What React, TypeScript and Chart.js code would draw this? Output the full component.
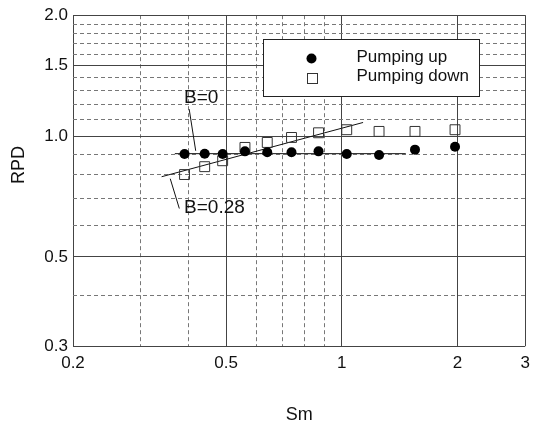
import React, { useEffect, useRef } from 'react';
import { Chart, registerables } from 'chart.js';

Chart.register(...registerables);

// ---- data ----
const smUp = [0.39, 0.44, 0.49, 0.56, 0.64, 0.74, 0.87, 1.03, 1.25, 1.55, 1.97];
const rpdUp = [0.902, 0.904, 0.902, 0.916, 0.911, 0.911, 0.916, 0.902, 0.897, 0.925, 0.941];
const smDown = [0.39, 0.44, 0.49, 0.56, 0.64, 0.74, 0.87, 1.03, 1.25, 1.55, 1.97];
const rpdDown = [0.802, 0.839, 0.868, 0.937, 0.964, 0.992, 1.019, 1.037, 1.027, 1.027, 1.037];

const fitB0Sm = [0.368, 1.467];
const fitB0Rpd = [0.904, 0.904];
const fitB28Sm = [0.34, 1.136];
const fitB28Rpd = [0.792, 1.081];

const leaderB0Sm = [0.401, 0.417];
const leaderB0Rpd = [1.167, 0.919];
const leaderB28Sm = [0.358, 0.378];
const leaderB28Rpd = [0.783, 0.66];

const annotationTexts = ['B=0', 'B=0.28'];
const annotationSm = [0.389, 0.389];
const annotationRpd = [1.246, 0.661];

const xTickValues = [0.2, 0.3, 0.4, 0.5, 0.6, 0.7, 0.8, 0.9, 1, 2, 3];
const xTickLabels = ['0.2', '0.5', '1', '2', '3'];
const xSolid = [0.2, 0.5, 1, 2, 3];
const yTickValues = [0.3, 0.4, 0.5, 0.6, 0.7, 0.8, 0.9, 1.0, 1.1, 1.2, 1.3, 1.4, 1.5, 1.6, 1.7, 1.8, 1.9, 2.0];
const yTickLabels = ['0.3', '0.5', '1.0', '1.5', '2.0'];
const ySolid = [0.3, 0.5, 1.0, 1.5, 2.0];

const seriesNames = ['Pumping up', 'Pumping down'];

const FONT = '"Liberation Sans", Arial, Helvetica, sans-serif';

const near = (list: number[], v: number) => list.some((a) => Math.abs(a - v) < 1e-6);
const labelFor = (values: number[], labels: string[], v: number) => {
  const i = labels.findIndex((l) => Math.abs(parseFloat(l) - v) < 1e-6);
  return i >= 0 ? labels[i] : '';
};
const zip = (xs: number[], ys: number[]) => xs.map((x, i) => ({ x, y: ys[i] }));

const overlayPlugin = {
  id: 'overlay',
  afterDatasetsDraw(chart: any) {
    const { ctx, chartArea, scales } = chart;
    const xs = scales.x;
    const ys = scales.y;
    ctx.save();
    // annotations
    ctx.fillStyle = '#111';
    ctx.textBaseline = 'middle';
    ctx.textAlign = 'left';
    ctx.font = `19px ${FONT}`;
    annotationTexts.forEach((t, i) => {
      ctx.fillText(t, xs.getPixelForValue(annotationSm[i]), ys.getPixelForValue(annotationRpd[i]));
    });

    // legend box
    const lx = Math.round(chartArea.left + 190) + 0.5;
    const ly = Math.round(chartArea.top + 24) + 0.5;
    const lw = 216;
    const lh = 57;
    ctx.fillStyle = '#fff';
    ctx.fillRect(lx, ly, lw, lh);
    ctx.strokeStyle = '#222';
    ctx.lineWidth = 1;
    ctx.strokeRect(lx, ly, lw, lh);

    const mx = lx + 48;
    // circle
    ctx.fillStyle = '#000';
    ctx.beginPath();
    ctx.arc(mx, ly + 19, 5, 0, Math.PI * 2);
    ctx.fill();
    // square
    ctx.strokeStyle = '#333';
    ctx.strokeRect(Math.round(mx - 5) + 0.5, Math.round(ly + 38 - 5) + 0.5, 10, 10);

    ctx.fillStyle = '#111';
    ctx.font = `17px ${FONT}`;
    ctx.fillText(seriesNames[0], lx + 93, ly + 17.5);
    ctx.fillText(seriesNames[1], lx + 93, ly + 36.5);

    // y axis title
    ctx.translate(19, 165);
    ctx.rotate(-Math.PI / 2);
    ctx.textAlign = 'center';
    ctx.font = `18px ${FONT}`;
    ctx.fillText('RPD', 0, 0);
    ctx.restore();
  },
};

export default function App() {
  const ref = useRef<HTMLCanvasElement | null>(null);

  useEffect(() => {
    if (!ref.current) return;
    const chart = new Chart(ref.current, {
      type: 'scatter',
      data: {
        datasets: [
          {
            label: seriesNames[0],
            data: zip(smUp, rpdUp),
            pointStyle: 'circle',
            pointRadius: 5,
            backgroundColor: '#000',
            borderColor: '#000',
            borderWidth: 0,
            order: 1,
          },
          {
            label: seriesNames[1],
            data: zip(smDown, rpdDown),
            pointStyle: 'rect',
            pointRadius: 7,
            backgroundColor: 'rgba(0,0,0,0)',
            borderColor: '#333',
            borderWidth: 1,
            order: 2,
          },
          {
            label: 'B=0',
            data: zip(fitB0Sm, fitB0Rpd),
            showLine: true,
            pointRadius: 0,
            borderColor: '#111',
            borderWidth: 1,
            order: 3,
          },
          {
            label: 'B=0.28',
            data: zip(fitB28Sm, fitB28Rpd),
            showLine: true,
            pointRadius: 0,
            borderColor: '#111',
            borderWidth: 1,
            order: 3,
          },
          {
            label: 'leader B=0',
            data: zip(leaderB0Sm, leaderB0Rpd),
            showLine: true,
            pointRadius: 0,
            borderColor: '#111',
            borderWidth: 1,
            order: 3,
          },
          {
            label: 'leader B=0.28',
            data: zip(leaderB28Sm, leaderB28Rpd),
            showLine: true,
            pointRadius: 0,
            borderColor: '#111',
            borderWidth: 1,
            order: 3,
          },
        ],
      },
      options: {
        responsive: false,
        animation: false,
        events: [],
        layout: { padding: { left: 0, right: 6, top: 14, bottom: 0 } },
        plugins: {
          legend: { display: false },
          tooltip: { enabled: false },
        },
        scales: {
          x: {
            type: 'logarithmic',
            min: 0.2,
            max: 3,
            afterBuildTicks: (scale: any) => {
              scale.ticks = xTickValues.map((v) => ({ value: v }));
            },
            afterFit: (scale: any) => {
              scale.height = 82;
            },
            ticks: {
              autoSkip: false,
              maxRotation: 0,
              padding: 7,
              color: '#111',
              font: { family: FONT, size: 17 },
              callback: (v: any) => labelFor(xTickValues, xTickLabels, Number(v)),
            },
            grid: {
              drawTicks: false,
              lineWidth: 1,
              color: (c: any) => (c.tick && near(xSolid, c.tick.value) ? '#444' : '#777'),
            },
            border: {
              display: false,
              dash: (c: any) => (c.tick && near(xSolid, c.tick.value) ? [] : [4, 3]),
            },
            title: {
              display: true,
              text: 'Sm',
              color: '#111',
              font: { family: FONT, size: 18 },
              padding: { top: 0, bottom: 2 },
            },
          },
          y: {
            type: 'logarithmic',
            min: 0.3,
            max: 2.0,
            afterBuildTicks: (scale: any) => {
              scale.ticks = yTickValues.map((v) => ({ value: v }));
            },
            afterFit: (scale: any) => {
              scale.width = 73;
            },
            ticks: {
              autoSkip: false,
              padding: 5,
              color: '#111',
              font: { family: FONT, size: 17 },
              callback: (v: any) => labelFor(yTickValues, yTickLabels, Number(v)),
            },
            grid: {
              drawTicks: false,
              lineWidth: 1,
              color: (c: any) => (c.tick && near(ySolid, c.tick.value) ? '#444' : '#777'),
            },
            border: {
              display: false,
              dash: (c: any) => (c.tick && near(ySolid, c.tick.value) ? [] : [4, 3]),
            },
          },
        },
      },
      plugins: [overlayPlugin],
    } as any);
    return () => chart.destroy();
  }, []);

  return (
    <div style={{ position: 'absolute', left: 0, top: 0, width: 537, height: 428, background: '#fff' }}>
      <canvas ref={ref} width={537} height={428} style={{ display: 'block', width: 537, height: 428 }} />
    </div>
  );
}
